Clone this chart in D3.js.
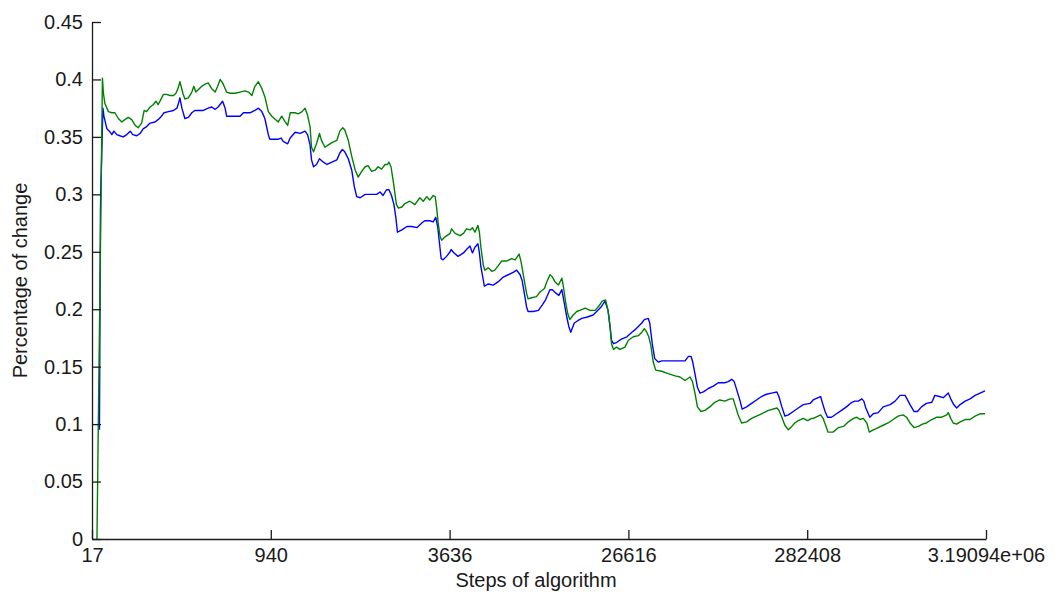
<!DOCTYPE html>
<html>
<head>
<meta charset="utf-8">
<script src="https://cdn.jsdelivr.net/npm/d3@7"></script>
<style>
  html, body { margin: 0; padding: 0; background: #fff; }
  svg { display: block; }
  text { font-family: "Liberation Sans", Arial, sans-serif; fill: #1a1a1a; }
</style>
</head>
<body>
<svg id="chart" width="1055" height="594"></svg>
<script>
// Step index along the run (tick positions) and the step counts printed there
const tickSteps = [0, 36, 72, 108, 144, 180];
const tickLabels = ["17", "940", "3636", "26616", "282408", "3.19094e+06"];
const yTickValues = [0, 0.05, 0.1, 0.15, 0.2, 0.25, 0.3, 0.35, 0.4, 0.45];
const yTickLabels = ["0", "0.05", "0.1", "0.15", "0.2", "0.25", "0.3", "0.35", "0.4", "0.45"];

// Blue series: step index and percentage of change
const blueSteps = [1.5,1.7,1.75,2.2,2.4,3.0,3.5,4.0,4.4,5.0,5.6,6.3,7.0,7.7,8.2,9.0,9.7,10.3,11.0,11.7,12.7,13.3,13.8,14.5,15.4,16.4,17.1,17.4,17.7,18.1,18.7,19.4,20.1,20.7,21.4,22.4,23.4,24.1,24.8,25.4,26.3,26.8,27.1,28.4,29.8,30.5,31.8,32.8,33.5,34.2,34.8,35.5,35.8,36.8,37.5,38.1,38.5,39.4,39.9,40.9,41.9,42.9,43.4,43.9,44.2,44.6,45.2,45.8,46.6,47.3,48.3,49.3,49.9,50.4,50.9,51.6,52.3,52.8,53.3,54.0,55.0,56.3,57.3,58.0,58.6,59.3,59.8,60.3,60.8,61.2,61.5,62.4,63.4,64.4,65.4,66.4,67.0,68.0,68.7,69.2,69.6,69.9,70.3,70.7,71.4,72.1,72.3,72.9,73.7,74.8,75.4,76.1,76.6,77.1,77.7,78.0,78.3,78.8,79.0,79.8,80.8,81.8,82.8,83.8,84.8,85.5,86.2,86.6,87.0,87.5,87.8,88.8,89.9,90.7,91.3,92.2,92.7,93.4,94.0,94.6,95.1,95.6,96.0,96.4,97.1,97.8,98.6,99.6,100.9,101.6,102.5,103.3,103.9,104.3,104.6,105.0,105.6,106.6,107.7,108.7,109.3,110.0,110.7,111.2,112.0,112.3,112.8,113.3,114.0,114.7,116.7,119.4,120.1,120.6,120.9,121.4,121.9,122.4,123.1,124.1,125.1,126.1,127.4,128.1,128.8,129.3,129.8,130.5,130.9,131.8,132.8,133.8,134.8,135.8,136.8,137.9,138.3,138.9,139.5,140.2,141.2,142.2,143.2,144.6,145.2,146.2,146.7,147.1,147.6,148.1,148.9,149.9,150.9,151.9,153.0,153.6,154.3,155.0,155.4,155.8,156.3,156.6,157.3,158.3,159.3,160.7,161.7,162.7,163.7,164.1,164.7,165.5,166.2,167.0,168.0,169.1,169.7,170.6,171.4,172.4,172.9,173.5,174.1,174.8,175.8,176.8,177.8,178.8,179.8];
const blueValues = [0.095,0.285,0.300,0.375,0.368,0.357,0.355,0.352,0.355,0.352,0.351,0.350,0.352,0.355,0.352,0.351,0.353,0.357,0.359,0.362,0.363,0.365,0.367,0.371,0.372,0.373,0.375,0.379,0.384,0.375,0.366,0.367,0.371,0.373,0.373,0.373,0.375,0.376,0.374,0.376,0.381,0.375,0.368,0.368,0.368,0.371,0.371,0.373,0.375,0.372,0.366,0.352,0.348,0.348,0.348,0.349,0.346,0.344,0.349,0.354,0.353,0.355,0.352,0.343,0.330,0.324,0.326,0.331,0.328,0.326,0.328,0.330,0.336,0.339,0.337,0.331,0.321,0.307,0.298,0.297,0.300,0.300,0.300,0.302,0.299,0.304,0.304,0.299,0.291,0.279,0.267,0.269,0.272,0.272,0.271,0.275,0.277,0.277,0.276,0.280,0.272,0.260,0.244,0.243,0.246,0.250,0.252,0.249,0.246,0.249,0.252,0.255,0.249,0.254,0.257,0.249,0.237,0.225,0.220,0.222,0.221,0.224,0.228,0.230,0.232,0.234,0.230,0.225,0.215,0.202,0.198,0.198,0.199,0.204,0.208,0.217,0.217,0.214,0.212,0.217,0.205,0.193,0.185,0.180,0.188,0.190,0.192,0.193,0.195,0.198,0.202,0.207,0.199,0.185,0.173,0.170,0.171,0.174,0.176,0.180,0.182,0.185,0.188,0.191,0.192,0.188,0.170,0.157,0.154,0.155,0.155,0.155,0.159,0.159,0.155,0.144,0.132,0.127,0.128,0.131,0.133,0.136,0.136,0.137,0.139,0.137,0.130,0.120,0.113,0.115,0.118,0.121,0.124,0.126,0.127,0.128,0.124,0.115,0.107,0.108,0.111,0.114,0.117,0.118,0.121,0.123,0.124,0.118,0.111,0.106,0.106,0.109,0.112,0.115,0.119,0.120,0.120,0.122,0.120,0.114,0.109,0.106,0.109,0.110,0.115,0.117,0.120,0.125,0.125,0.122,0.117,0.111,0.111,0.115,0.118,0.119,0.125,0.124,0.123,0.127,0.122,0.117,0.114,0.117,0.120,0.122,0.125,0.127,0.129];

// Green series: step index and percentage of change
const greenSteps = [1.0,2.1,2.3,2.6,3.3,4.0,4.6,5.3,6.0,6.6,7.3,8.0,8.7,9.3,10.0,10.5,11.0,11.7,12.3,12.9,13.3,13.8,14.4,15.0,15.7,16.4,16.9,17.3,17.7,18.3,18.7,19.4,20.1,20.5,20.9,21.4,22.1,22.8,23.4,24.1,24.8,25.3,25.8,26.3,27.1,27.8,28.8,29.8,30.8,31.5,32.2,32.8,33.5,34.2,34.8,35.5,36.2,37.5,38.2,38.9,39.4,39.9,40.9,41.5,42.3,42.9,43.4,43.9,44.2,44.6,45.2,45.8,46.2,46.9,47.6,48.3,49.3,49.9,50.5,50.9,51.6,52.3,53.0,53.6,54.3,55.0,55.6,56.3,57.0,57.6,58.3,59.0,59.5,59.8,60.2,60.7,61.3,61.7,62.4,63.0,64.0,65.0,66.0,66.7,67.4,68.0,68.7,69.1,69.4,69.7,70.1,70.4,71.1,72.1,72.4,73.1,74.1,74.8,75.4,76.1,76.6,77.1,77.7,78.0,78.3,78.8,79.1,79.8,80.5,81.1,81.8,82.5,83.5,84.5,85.2,86.0,86.4,86.8,87.2,87.5,87.8,88.5,89.5,90.2,91.1,91.5,92.2,92.7,93.2,93.9,94.6,94.9,95.4,95.8,96.2,96.9,97.6,98.2,99.3,100.3,101.3,102.1,102.7,103.4,103.9,104.3,104.6,105.0,105.6,106.3,107.3,108.0,109.0,110.0,110.7,111.2,111.7,112.1,112.5,113.0,113.5,114.7,116.0,117.4,118.4,119.4,120.4,120.9,121.4,121.9,122.6,123.4,124.4,125.4,126.4,127.4,128.5,129.1,129.6,130.1,130.8,131.8,132.8,133.8,134.8,136.2,137.9,138.3,138.9,139.5,140.2,140.9,141.5,142.2,143.2,144.1,144.9,145.2,146.2,146.7,147.2,147.8,148.2,149.2,150.3,151.3,152.3,153.3,154.0,154.6,155.3,156.0,156.5,157.3,158.3,159.3,160.3,161.3,162.3,163.3,164.0,164.7,165.5,166.4,167.2,168.0,169.1,170.1,171.1,172.1,172.4,172.9,173.4,174.1,174.8,175.8,176.8,177.8,178.8,179.8];
const greenValues = [0,0.401,0.388,0.379,0.372,0.371,0.371,0.366,0.363,0.365,0.367,0.365,0.360,0.358,0.362,0.373,0.372,0.376,0.378,0.381,0.378,0.382,0.387,0.387,0.386,0.386,0.388,0.392,0.398,0.388,0.383,0.384,0.389,0.394,0.389,0.391,0.394,0.396,0.397,0.392,0.389,0.394,0.400,0.397,0.389,0.388,0.388,0.389,0.390,0.389,0.386,0.394,0.398,0.392,0.385,0.372,0.368,0.363,0.368,0.363,0.360,0.371,0.371,0.370,0.372,0.375,0.369,0.359,0.341,0.337,0.344,0.353,0.347,0.341,0.343,0.345,0.347,0.355,0.358,0.356,0.347,0.333,0.321,0.315,0.320,0.324,0.325,0.320,0.321,0.324,0.322,0.326,0.326,0.328,0.324,0.310,0.291,0.288,0.289,0.292,0.294,0.291,0.297,0.294,0.298,0.295,0.299,0.298,0.288,0.275,0.263,0.260,0.263,0.266,0.270,0.266,0.264,0.266,0.270,0.269,0.271,0.267,0.273,0.267,0.254,0.238,0.234,0.236,0.233,0.234,0.238,0.242,0.242,0.244,0.243,0.248,0.241,0.231,0.221,0.214,0.209,0.210,0.211,0.215,0.218,0.223,0.230,0.228,0.224,0.221,0.227,0.220,0.205,0.196,0.191,0.195,0.198,0.199,0.201,0.199,0.199,0.203,0.207,0.208,0.199,0.185,0.170,0.165,0.167,0.165,0.167,0.173,0.176,0.177,0.180,0.183,0.180,0.176,0.169,0.154,0.147,0.146,0.144,0.142,0.141,0.138,0.141,0.137,0.127,0.115,0.111,0.112,0.115,0.119,0.121,0.120,0.122,0.122,0.115,0.108,0.101,0.102,0.105,0.107,0.109,0.112,0.114,0.112,0.106,0.099,0.095,0.098,0.101,0.103,0.105,0.103,0.105,0.105,0.107,0.108,0.105,0.098,0.093,0.093,0.097,0.098,0.102,0.105,0.106,0.104,0.105,0.101,0.093,0.095,0.097,0.099,0.101,0.104,0.107,0.108,0.106,0.101,0.097,0.098,0.100,0.101,0.104,0.106,0.106,0.108,0.110,0.105,0.101,0.100,0.102,0.104,0.104,0.107,0.109,0.109];

const xLabel = "Steps of algorithm";
const yLabel = "Percentage of change";

const svg = d3.select("#chart");
const margin = { left: 92, right: 69, top: 22, bottom: 55 };
const W = +svg.attr("width"), H = +svg.attr("height");
const plotW = W - margin.left - margin.right;
const plotH = H - margin.top - margin.bottom;

const x = d3.scaleLinear().domain([0, 180]).range([0, plotW]);
const y = d3.scaleLinear().domain([0, 0.45]).range([plotH, 0]);

const g = svg.append("g").attr("transform", `translate(${margin.left},${margin.top})`);

const line = d3.line().x(d => x(d[0])).y(d => y(d[1]));
const series = [
  { color: "#0000ff", pts: d3.zip(blueSteps, blueValues) },
  { color: "#008000", pts: d3.zip(greenSteps, greenValues) }
];
g.selectAll("path.series").data(series).join("path")
  .attr("class", "series")
  .attr("fill", "none")
  .attr("stroke", d => d.color)
  .attr("stroke-width", 1.4)
  .attr("stroke-linejoin", "round")
  .attr("d", d => line(d.pts));

// Axes with ticks pointing into the plot
const xAxis = d3.axisBottom(x)
  .tickValues(tickSteps)
  .tickFormat((d, i) => tickLabels[i])
  .tickSizeInner(-9).tickSizeOuter(0).tickPadding(9);
const yAxis = d3.axisLeft(y)
  .tickValues(yTickValues)
  .tickFormat((d, i) => yTickLabels[i])
  .tickSizeInner(-9).tickSizeOuter(0).tickPadding(9);

const gx = g.append("g").attr("transform", `translate(0,${plotH})`).call(xAxis);
const gy = g.append("g").call(yAxis);

[gx, gy].forEach(a => {
  a.selectAll("path.domain").attr("stroke", "#1a1a1a").attr("stroke-width", 1.3);
  a.selectAll(".tick line").attr("stroke", "#1a1a1a").attr("stroke-width", 1.3);
  a.selectAll(".tick text")
    .style("font-family", '"Liberation Sans", Arial, sans-serif')
    .style("font-size", "20px")
    .attr("fill", "#1a1a1a");
});

svg.append("text")
  .attr("x", margin.left + plotW / 2 - 3)
  .attr("y", 587)
  .attr("text-anchor", "middle")
  .style("font-size", "20px")
  .text(xLabel);

svg.append("text")
  .attr("transform", `translate(27,${margin.top + plotH / 2}) rotate(-90)`)
  .attr("text-anchor", "middle")
  .style("font-size", "20px")
  .text(yLabel);
</script>
</body>
</html>
